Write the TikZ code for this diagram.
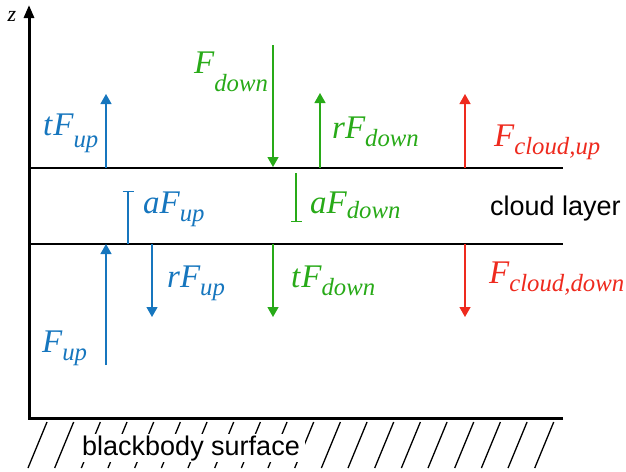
\documentclass[tikz,border=0pt]{standalone}
\usepackage{fontspec}
\setmainfont{Liberation Serif}
\newfontfamily\hvfont{Liberation Sans}
\usepackage{graphicx}
\usepackage{xcolor}
\usetikzlibrary{arrows.meta}

\definecolor{upblue}{RGB}{22,118,190}
\definecolor{downgreen}{RGB}{40,170,24}
\definecolor{cloudred}{RGB}{238,42,30}

% flux label: main part, lowered smaller subscript
\newcommand{\flx}[3][0.25]{#2\raisebox{-#1em}{\scalebox{0.75}{#3}}}

\begin{document}
\begin{tikzpicture}[x=1pt, y=-1pt, >={Triangle[width=11pt,length=10pt]},
  every node/.style={inner sep=0pt},
  flux/.style={line width=1.3pt, ->},
  part/.style={line width=1.3pt, -{Bar[width=11pt]}},
  lbl/.style={anchor=base west, font=\fontsize{33}{33}\selectfont\itshape},
  txt/.style={anchor=base west, font=\fontsize{27}{27}\selectfont\hvfont}]
  \useasboundingbox (0,0) rectangle (626,471);

  % ---- ground and z axis ----
  \foreach \i in {0,...,19} {
    \draw[line width=1.3pt] (47+26.67*\i,422) -- ++(-19,46);
  }
  \node[txt, fill=white, inner xsep=5pt, inner ysep=1pt] (surf) at (77,455) {blackbody surface};
  \draw[line width=3pt, line join=miter, -{Triangle[width=10pt,length=13pt]}]
    (563,418) -- (29,418) -- (29,5);
  \node[font=\fontsize{22}{22}\selectfont\itshape] (zlab) at (12,16) {z};

  % ---- cloud layer ----
  \draw[line width=1.5pt] (29,168) -- (563,168);
  \draw[line width=1.5pt] (29,244) -- (563,244);
  \node[txt] (layer) at (490,215) {cloud layer};

  % ---- upward flux (blue) ----
  \begin{scope}[upblue]
    \draw[flux] (106,168) -- (106,94);
    \draw[flux] (106,365) -- (106,244);
    \draw[part] (128,244) -- (128,191);
    \draw[flux] (152,244) -- (152,317);
    \node[lbl] (tFup) at (43,135) {\flx[0.38]{t\kern1pt F}{up}};
    \node[lbl] (Fup) at (42,352) {\flx{F}{up}};
    \node[lbl] (aFup) at (143,213) {\flx{aF}{up}};
    \node[lbl] (rFup) at (167,287) {\flx{rF}{up}};
  \end{scope}

  % ---- downward flux (green) ----
  \begin{scope}[downgreen]
    \draw[flux] (273,45) -- (273,167);
    \draw[flux] (320,168) -- (320,93);
    \draw[part] (296,173) -- (296,222);
    \draw[flux] (273,244) -- (273,317);
    \node[lbl] (Fdown) at (194,73) {\flx[0.55]{F}{down}};
    \node[lbl] (rFdown) at (332,138) {\flx{rF}{down}};
    \node[lbl] (aFdown) at (310,213) {\flx[0.18]{aF}{down}};
    \node[lbl] (tFdown) at (291,287) {\flx{t\kern1pt F}{down}};
  \end{scope}

  % ---- cloud emission (red) ----
  \begin{scope}[cloudred]
    \draw[flux] (465,168) -- (465,94);
    \draw[flux] (465,244) -- (465,317);
    \node[lbl] (Fcu) at (494,146) {\flx{F}{cloud,up}};
    \node[lbl] (Fcd) at (489,283) {\flx{F}{cloud,down}};
  \end{scope}
\end{tikzpicture}
\end{document}
